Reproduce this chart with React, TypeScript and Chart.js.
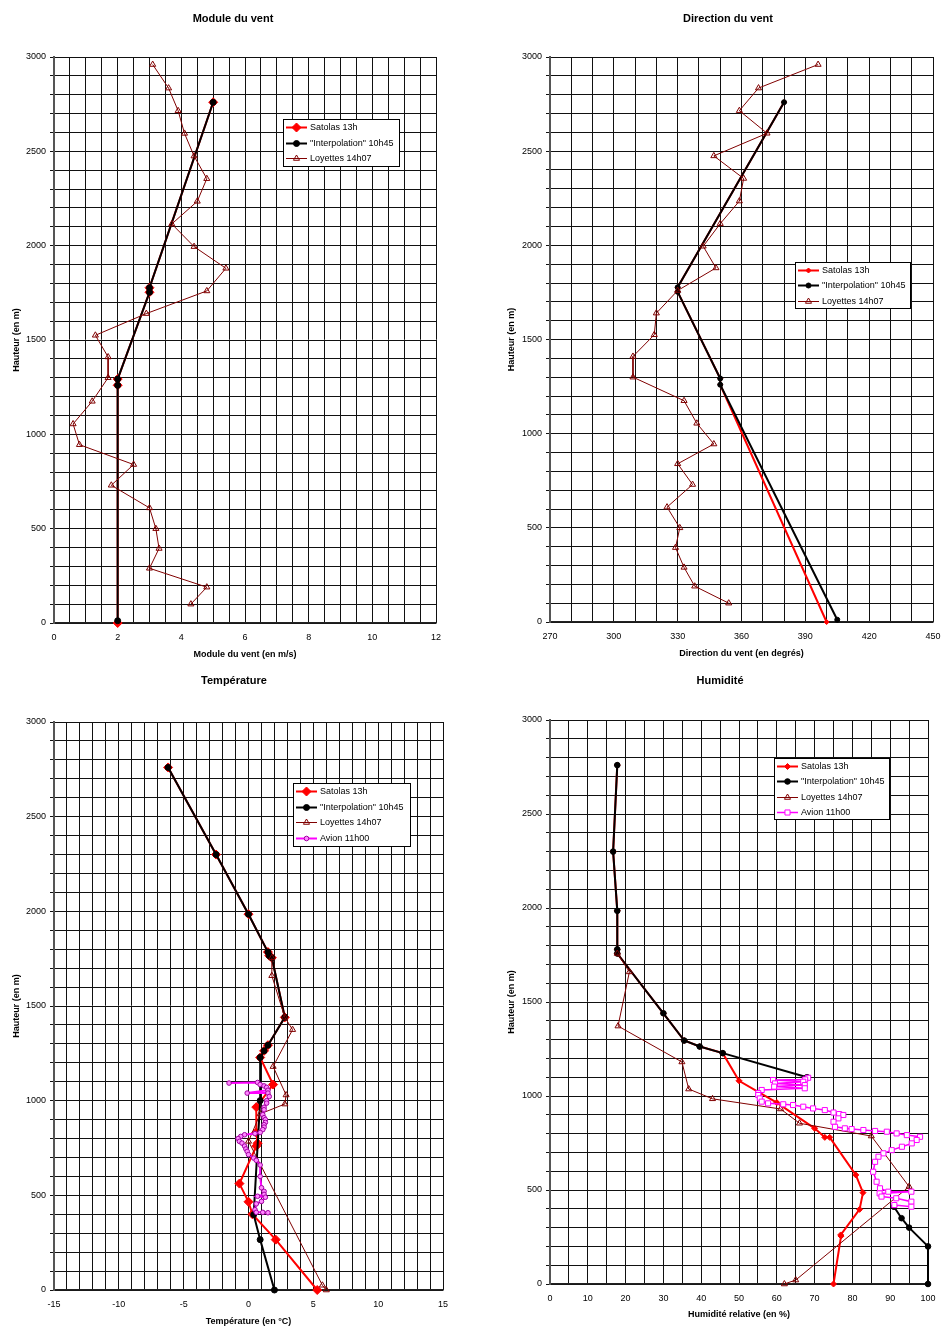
import React, { useEffect, useRef } from 'react';
import { Chart, registerables } from 'chart.js';

Chart.register(...registerables);

type Pt = [number, number] | null;

// ---------------- DATA (value, height in m) ----------------
const loyettesHeights = [2960, 2835, 2715, 2595, 2475, 2355, 2235, 2115, 1995, 1880, 1760, 1640, 1525, 1410, 1300, 1175, 1055, 945, 840, 730, 610, 500, 395, 290, 190, 100];

// Module du vent (m/s)
const windSatolas: Pt[] = [[2, 0], [2, 1260], [2, 1293], [3, 1753], [3, 1777], [5, 2760]];
const windInterp: Pt[] = [[2, 12], [2, 1260], [2, 1293], [3, 1753], [3, 1777], [5, 2760]];
const windLoyettes = [3.1, 3.6, 3.9, 4.1, 4.4, 4.8, 4.5, 3.7, 4.4, 5.4, 4.8, 2.9, 1.3, 1.7, 1.7, 1.2, 0.6, 0.8, 2.5, 1.8, 3.0, 3.2, 3.3, 3.0, 4.8, 4.3];

// Direction du vent (degrés)
const dirSatolas: Pt[] = [[400, 0], [350, 1260], [350, 1293], [330, 1753], [330, 1777], [380, 2760]];
const dirInterp: Pt[] = [[405, 12], [350, 1260], [350, 1293], [330, 1753], [330, 1777], [380, 2760]];
const dirLoyettes = [396, 368, 359, 372, 347, 361, 359, 350, 342, 348, 330, 320, 319, 309, 309, 333, 339, 347, 330, 337, 325, 331, 329, 333, 338, 354];

// Température (°C)
const tempSatolas: Pt[] = [[5.3, 0], [2.1, 266], [0.3, 400], [0.0, 466], [-0.7, 562], [0.6, 760], [0.7, 775], [0.6, 832], [0.6, 966], [1.9, 1085], [0.9, 1228], [1.2, 1263], [1.5, 1293], [2.8, 1440], [1.8, 1755], [1.6, 1766], [1.5, 1785], [0.0, 1985], [-2.5, 2300], [-6.2, 2760]];
const tempInterp: Pt[] = [[2.0, 0], [0.9, 266], [0.4, 398], [0.9, 1000], [0.9, 1228], [1.2, 1263], [1.5, 1293], [2.8, 1440], [1.8, 1755], [1.6, 1766], [1.5, 1785], [0.0, 1985], [-2.5, 2300], [-6.2, 2760]];
const tempLoyettes: Pt[] = [[6.0, 0], [5.7, 25], [0.0, 785], [0.9, 930], [2.8, 982], [2.9, 1030], [1.9, 1180], [3.4, 1375], [2.8, 1440], [1.8, 1660], [1.8, 1755]];
const tempAvion: Pt[] = [[-1.5, 1093], [0.7, 1096], [0.9, 1085], [1.2, 1078], [1.4, 1070], [1.5, 1055], [-0.1, 1040], [1.5, 1040], [1.6, 1022], [1.4, 1000], [1.4, 987], [1.2, 965], [1.2, 952], [1.1, 926], [1.2, 910], [1.3, 900], [1.3, 885], [1.2, 873], [1.2, 860], [1.1, 847], [0.9, 832], [0.5, 826], [-0.3, 820], [-0.6, 811], [-0.8, 800], [-0.7, 785], [-0.5, 776], [-0.3, 760], [-0.2, 745], [-0.1, 732], [0.0, 715], [0.4, 697], [0.6, 685], [0.9, 660], [0.9, 600], [1.0, 540], [1.2, 521], [1.2, 505], [0.7, 495], [1.3, 490], [1.0, 468], [0.6, 455], [0.5, 424], [0.6, 410], [1.1, 410], [1.5, 408]];

// Humidité relative (%)
const rhSatolas: Pt[] = [[75, 0], [77, 255], [76.9, 261], [81.9, 397], [82.8, 486], [80.9, 580], [74, 780], [72.7, 780], [70, 828], [60, 965], [50, 1081], [45.7, 1228], [39.6, 1263], [35.5, 1295], [30, 1440], [17.8, 1758], [17.8, 1780], [17.8, 1985], [16.7, 2300], [17.8, 2760]];
const rhInterp: Pt[] = [[100, 0], [100, 200], [95, 300], [93, 350], [91, 411], null, [68, 1100], [45.7, 1228], [39.6, 1263], [35.5, 1295], [30, 1440], [17.8, 1758], [17.8, 1780], [17.8, 1985], [16.7, 2300], [17.8, 2760]];
const rhLoyettes: Pt[] = [[62, 0], [65, 21], [95, 518], [85, 787], [66, 855], [61, 931], [43, 985], [36.7, 1037], [34.9, 1181], [18, 1372], [21, 1660], [17.8, 1758]];
const rhAvion: Pt[] = [[68.3, 1097], [67.5, 1088], [59.0, 1085], [67.0, 1076], [59.5, 1067], [67.4, 1058], [59.3, 1050], [67.4, 1041], [56.0, 1032], [55.1, 1015], [55.1, 1005], [55.5, 987], [56.0, 970], [57.7, 961], [61.7, 956], [64.3, 952], [67.0, 943], [69.6, 934], [72.7, 925], [75.0, 912], [76.5, 904], [77.6, 899], [76.3, 881], [75.0, 863], [75.4, 836], [78.0, 828], [79.8, 824], [82.9, 819], [86.0, 814], [89.1, 810], [91.7, 801], [94.4, 792], [97.9, 783], [97.0, 766], [95.7, 748], [93.1, 730], [90.4, 712], [88.2, 695], [86.9, 677], [86.0, 650], [85.5, 597], [86.4, 544], [87.3, 509], [89.5, 491], [95.6, 491], [87.2, 482], [87.7, 465], [91.6, 456], [95.6, 438], [95.6, 411], [91.1, 420]];

const labels = {
  satolas: 'Satolas 13h',
  interp: '"Interpolation" 10h45',
  loyettes: 'Loyettes 14h07',
  avion: 'Avion 11h00',
};

// ---------------- STYLE ----------------
const RED = '#FF0000';
const BLACK = '#000000';
const MAROON = '#800000';
const MAGENTA = '#FF00FF';
const FONT = '"Liberation Sans", Arial, Helvetica, sans-serif';

const toXY = (arr: Pt[]) => arr.map((p) => (p ? { x: p[0], y: p[1] } : { x: null, y: null }));
const zipH = (vals: number[], hs: number[]) => vals.map((v, i) => [v, hs[i]] as Pt);

type SeriesStyle = {
  key: string;
  color: string;
  lineWidth: number;
  shape: string;
  radius: number;
  fill: string;
  stroke: string;
  pbw: number;
};

function dataset(label: string, pts: Pt[], s: SeriesStyle, order: number) {
  return {
    label,
    data: toXY(pts),
    showLine: true,
    borderColor: s.color,
    backgroundColor: s.fill,
    borderWidth: s.lineWidth,
    pointStyle: s.shape,
    pointRadius: s.radius,
    pointBackgroundColor: s.fill,
    pointBorderColor: s.stroke,
    pointBorderWidth: s.pbw,
    tension: 0,
    spanGaps: false,
    clip: false as any,
    order,
  };
}

function drawMarker(ctx: CanvasRenderingContext2D, s: SeriesStyle, cx: number, cy: number) {
  const r = s.radius;
  ctx.beginPath();
  if (s.shape === 'rectRot') {
    ctx.moveTo(cx, cy - r);
    ctx.lineTo(cx + r, cy);
    ctx.lineTo(cx, cy + r);
    ctx.lineTo(cx - r, cy);
    ctx.closePath();
  } else if (s.shape === 'circle') {
    ctx.arc(cx, cy, r, 0, Math.PI * 2);
  } else if (s.shape === 'triangle') {
    ctx.moveTo(cx, cy - r);
    ctx.lineTo(cx + r * 0.866, cy + r / 2);
    ctx.lineTo(cx - r * 0.866, cy + r / 2);
    ctx.closePath();
  } else {
    const h = r * Math.SQRT1_2;
    ctx.rect(cx - h, cy - h, 2 * h, 2 * h);
  }
  ctx.fillStyle = s.fill;
  ctx.fill();
  ctx.lineWidth = s.pbw;
  ctx.strokeStyle = s.stroke;
  ctx.stroke();
}

type LegendBox = { x: number; y: number; w: number; h: number; first: number; gap: number };

function legendPlugin(box: LegendBox, items: { label: string; style: SeriesStyle }[]) {
  return {
    id: 'boxLegend',
    afterDraw(chart: any) {
      const ctx: CanvasRenderingContext2D = chart.ctx;
      ctx.save();
      ctx.fillStyle = '#ffffff';
      ctx.fillRect(box.x, box.y, box.w, box.h);
      ctx.strokeStyle = '#000';
      ctx.lineWidth = 1;
      ctx.strokeRect(box.x + 0.5, box.y + 0.5, box.w, box.h);
      items.forEach((it, i) => {
        const cy = Math.round(box.y + box.first + i * box.gap) + 0.5;
        const x0 = box.x + 3;
        const x1 = box.x + 24;
        ctx.beginPath();
        ctx.moveTo(x0, cy);
        ctx.lineTo(x1, cy);
        ctx.strokeStyle = it.style.color;
        ctx.lineWidth = it.style.lineWidth;
        ctx.stroke();
        drawMarker(ctx, it.style, (x0 + x1) / 2, cy);
        ctx.fillStyle = '#000';
        ctx.font = `9px ${FONT}`;
        ctx.textBaseline = 'middle';
        ctx.textAlign = 'left';
        ctx.fillText(it.label, box.x + 27, cy);
      });
      ctx.restore();
    },
  };
}

type Panel = {
  title: string;
  titleX: number;
  titleY: number;
  left: number;
  top: number;
  w: number;
  h: number;
  padTop: number;
  padRight: number;
  yAxisW: number;
  xAxisH: number;
  xMin: number;
  xMax: number;
  xStep: number;
  xLabelEvery: number;
  xTitle: string;
  xTitlePad: number;
  yTitlePad: number;
  legend: LegendBox;
  series: { label: string; pts: Pt[]; style: SeriesStyle }[];
};

const onTick = (v: number, start: number, every: number) => {
  const q = (v - start) / every;
  return Math.abs(q - Math.round(q)) < 1e-6;
};

function st(key: string, color: string, lineWidth: number, shape: string, radius: number, fill: string, stroke: string, pbw = 1): SeriesStyle {
  return { key, color, lineWidth, shape, radius, fill, stroke, pbw };
}

const panels: Panel[] = [
  {
    title: 'Module du vent', titleX: 233, titleY: 18,
    left: 0, top: 0, w: 471, h: 664, padTop: 57, padRight: 35, yAxisW: 54, xAxisH: 41,
    xMin: 0, xMax: 12, xStep: 0.5, xLabelEvery: 2,
    xTitle: 'Module du vent (en m/s)', xTitlePad: 4.2, yTitlePad: 11.6,
    legend: { x: 283, y: 119, w: 116, h: 47, first: 8, gap: 15.5 },
    series: [
      { label: labels.satolas, pts: windSatolas, style: st('s', RED, 2, 'rectRot', 4.5, RED, RED) },
      { label: labels.interp, pts: windInterp, style: st('i', BLACK, 2, 'circle', 3, BLACK, BLACK) },
      { label: labels.loyettes, pts: zipH(windLoyettes, loyettesHeights), style: st('l', MAROON, 1, 'triangle', 3.5, 'rgba(255,255,255,0)', MAROON) },
    ],
  },
  {
    title: 'Direction du vent', titleX: 728, titleY: 18,
    left: 471, top: 0, w: 472, h: 664, padTop: 57, padRight: 10, yAxisW: 79, xAxisH: 42,
    xMin: 270, xMax: 450, xStep: 10, xLabelEvery: 30,
    xTitle: 'Direction du vent (en degrés)', xTitlePad: 5, yTitlePad: 35.6,
    legend: { x: 324, y: 262, w: 115, h: 46, first: 7.6, gap: 15.5 },
    series: [
      { label: labels.satolas, pts: dirSatolas, style: st('s', RED, 2, 'rectRot', 2.5, RED, RED) },
      { label: labels.interp, pts: dirInterp, style: st('i', BLACK, 2, 'circle', 2.5, BLACK, BLACK) },
      { label: labels.loyettes, pts: zipH(dirLoyettes, loyettesHeights), style: st('l', MAROON, 1, 'triangle', 3.5, 'rgba(255,255,255,0)', MAROON) },
    ],
  },
  {
    title: 'Température', titleX: 234, titleY: 680,
    left: 0, top: 664, w: 471, h: 664, padTop: 58, padRight: 28, yAxisW: 54, xAxisH: 38,
    xMin: -15, xMax: 15, xStep: 1, xLabelEvery: 5,
    xTitle: 'Température (en °C)', xTitlePad: 0.6, yTitlePad: 11.6,
    legend: { x: 293, y: 119, w: 117, h: 63, first: 8.4, gap: 15.5 },
    series: [
      { label: labels.satolas, pts: tempSatolas, style: st('s', RED, 2, 'rectRot', 4.5, RED, RED) },
      { label: labels.interp, pts: tempInterp, style: st('i', BLACK, 2, 'circle', 3, BLACK, BLACK) },
      { label: labels.loyettes, pts: tempLoyettes, style: st('l', MAROON, 1, 'triangle', 3.5, 'rgba(255,255,255,0)', MAROON) },
      { label: labels.avion, pts: tempAvion, style: st('a', MAGENTA, 2, 'circle', 2.3, '#FF88FF', '#A000A0') },
    ],
  },
  {
    title: 'Humidité', titleX: 720, titleY: 680,
    left: 471, top: 664, w: 472, h: 664, padTop: 56, padRight: 15, yAxisW: 79, xAxisH: 44,
    xMin: 0, xMax: 100, xStep: 5, xLabelEvery: 10,
    xTitle: 'Humidité relative (en %)', xTitlePad: 7.6, yTitlePad: 35.6,
    legend: { x: 303, y: 94, w: 115, h: 61, first: 7.6, gap: 15.6 },
    series: [
      { label: labels.satolas, pts: rhSatolas, style: st('s', RED, 2, 'rectRot', 3, RED, RED) },
      { label: labels.interp, pts: rhInterp, style: st('i', BLACK, 2, 'circle', 2.8, BLACK, BLACK) },
      { label: labels.loyettes, pts: rhLoyettes, style: st('l', MAROON, 1, 'triangle', 3.5, 'rgba(255,255,255,0)', MAROON) },
      { label: labels.avion, pts: rhAvion, style: st('a', MAGENTA, 1.5, 'rect', 3.6, '#FFFFFF', MAGENTA) },
    ],
  },
];

function makeConfig(p: Panel): any {
  const n = p.series.length;
  const datasets = p.series.map((s, i) => dataset(s.label, s.pts, s.style, n - i));
  const tickFont = { family: FONT, size: 9 };
  const titleFont = { family: FONT, size: 9, weight: 'bold' as const };
  return {
    type: 'scatter',
    data: { datasets },
    options: {
      animation: false,
      responsive: false,
      maintainAspectRatio: false,
      events: [],
      layout: { padding: { top: p.padTop, right: p.padRight, left: 0, bottom: 0 } },
      plugins: { legend: { display: false }, tooltip: { enabled: false }, title: { display: false } },
      scales: {
        x: {
          type: 'linear',
          position: 'bottom',
          min: p.xMin,
          max: p.xMax,
          ticks: {
            stepSize: p.xStep,
            autoSkip: false,
            maxRotation: 0,
            minRotation: 0,
            padding: 0,
            color: '#000',
            font: tickFont,
            callback: (v: number) => (onTick(v, p.xMin, p.xLabelEvery) ? String(v) : ''),
          },
          grid: { color: '#111', lineWidth: 1, drawTicks: true, tickLength: 9, tickColor: 'rgba(0,0,0,0)' },
          border: { display: true, color: '#222', width: 1.5 },
          title: { display: true, text: p.xTitle, color: '#000', font: titleFont, padding: { top: 0, bottom: p.xTitlePad } },
          afterFit: (s: any) => { s.height = p.xAxisH; },
        },
        y: {
          type: 'linear',
          position: 'left',
          min: 0,
          max: 3000,
          ticks: {
            stepSize: 100,
            autoSkip: false,
            padding: 4,
            color: '#000',
            font: tickFont,
            callback: (v: number) => (onTick(v, 0, 500) ? String(v) : ''),
          },
          grid: { color: '#111', lineWidth: 1, drawTicks: true, tickLength: 4 },
          border: { display: true, color: '#555', width: 2 },
          title: { display: true, text: 'Hauteur (en m)', color: '#000', font: titleFont, padding: { top: p.yTitlePad, bottom: 0 } },
          afterFit: (s: any) => { s.width = p.yAxisW; },
        },
      },
    },
    plugins: [legendPlugin(p.legend, p.series.map((s) => ({ label: s.label, style: s.style })))],
  };
}

function PanelChart({ p }: { p: Panel }) {
  const ref = useRef<HTMLCanvasElement | null>(null);
  useEffect(() => {
    if (!ref.current) return;
    const chart = new Chart(ref.current, makeConfig(p));
    return () => chart.destroy();
  }, [p]);
  return (
    <>
      <canvas
        ref={ref}
        width={p.w}
        height={p.h}
        style={{ position: 'absolute', left: p.left, top: p.top, width: p.w, height: p.h }}
      />
      <div
        style={{
          position: 'absolute',
          left: p.titleX - 150,
          top: p.titleY - 7,
          width: 300,
          height: 14,
          lineHeight: '14px',
          textAlign: 'center',
          fontFamily: FONT,
          fontWeight: 'bold',
          fontSize: 11,
          color: '#000',
          whiteSpace: 'nowrap',
        }}
      >
        {p.title}
      </div>
    </>
  );
}

export default function App() {
  return (
    <div style={{ position: 'absolute', left: 0, top: 0, width: 943, height: 1328, background: '#fff', overflow: 'hidden' }}>
      {panels.map((p) => (
        <PanelChart key={p.title} p={p} />
      ))}
    </div>
  );
}
